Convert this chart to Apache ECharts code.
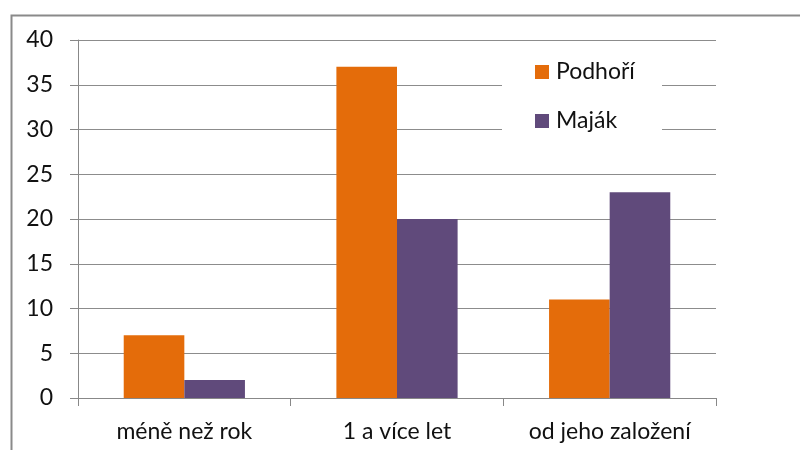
<!DOCTYPE html>
<html>
<head>
<meta charset="utf-8">
<script src="https://cdn.jsdelivr.net/npm/echarts@6/dist/echarts.min.js"></script>
<style>
  html, body { margin: 0; padding: 0; background: #fff; }
  #chart { width: 800px; height: 450px; }
</style>
</head>
<body>
<div id="chart"></div>
<script>
    var categories = ['méně než rok', '1 a více let', 'od jeho založení'];
    var podhoriValues = [7, 37, 11];
    var majakValues = [2, 20, 23];
    var seriesNames = ['Podhoří', 'Maják'];

    var myChart = echarts.init(document.getElementById('chart'));
    var textColor = '#111';
    var fontName = 'Lato';

    var option = {
        backgroundColor: '#fff',
        animation: false,
        graphic: [
            // outer border of the chart area (only left/top visible)
            {
                type: 'rect', left: 9, top: 13, z: 0,
                shape: { width: 900, height: 600 },
                style: { fill: null, stroke: '#8a8a8a', lineWidth: 2 }
            },
            // legend white box, covers gridlines
            {
                type: 'rect', left: 502, top: 48, z: 3,
                shape: { width: 160, height: 100 },
                style: { fill: '#fff' }
            }
        ],
        grid: { left: 78, right: 84, top: 40, bottom: 52 },
        legend: {
            data: seriesNames,
            orient: 'vertical',
            left: 530,
            top: 55,
            itemWidth: 14,
            itemHeight: 14,
            itemGap: 25,
            icon: 'rect',
            z: 5,
            textStyle: { fontFamily: fontName, fontSize: 23, lineHeight: 24, color: textColor, padding: [0, 0, 0, 2] }
        },
        xAxis: {
            type: 'category',
            data: categories,
            axisLine: { lineStyle: { color: '#888', width: 1 } },
            axisTick: { show: true, length: 8, lineStyle: { color: '#888' } },
            axisLabel: { fontFamily: fontName, fontSize: 23, color: textColor, margin: 22 }
        },
        yAxis: {
            type: 'value',
            min: 0,
            max: 40,
            interval: 5,
            axisLine: { show: true, lineStyle: { color: '#888' } },
            axisTick: { show: true, length: 8, lineStyle: { color: '#888' } },
            axisLabel: { fontFamily: fontName, fontSize: 23, color: textColor, margin: 25 },
            splitLine: { lineStyle: { color: '#8c8c8c', width: 1 } }
        },
        series: [
            {
                name: seriesNames[0],
                type: 'bar',
                data: podhoriValues,
                barGap: '0%',
                barCategoryGap: '43%',
                itemStyle: { color: '#e46c0a' }
            },
            {
                name: seriesNames[1],
                type: 'bar',
                data: majakValues,
                barGap: '0%',
                barCategoryGap: '43%',
                itemStyle: { color: '#604a7b' }
            }
        ]
    };
    myChart.setOption(option);
</script>
</body>
</html>
